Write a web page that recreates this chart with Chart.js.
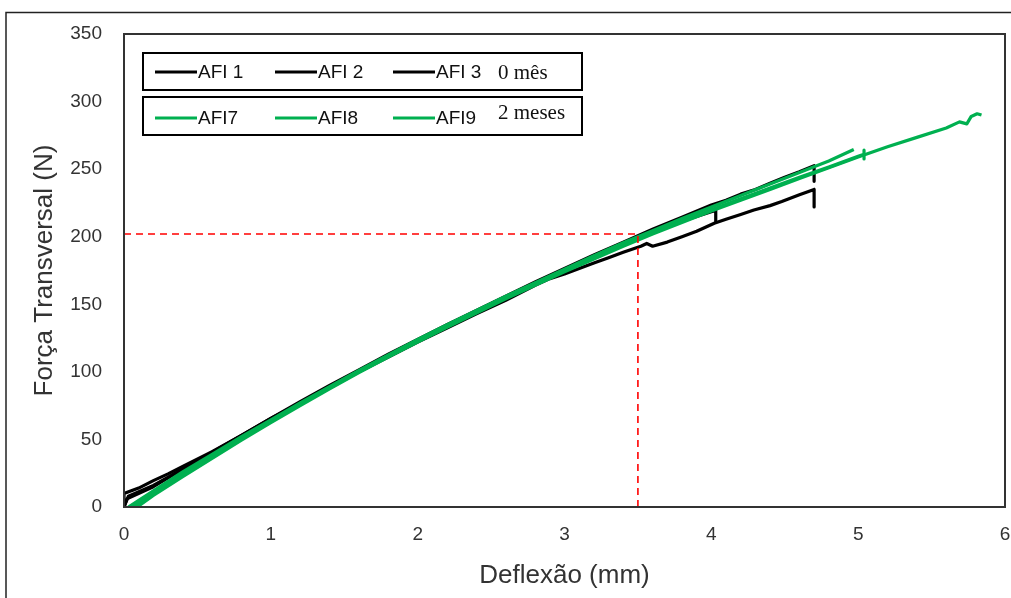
<!DOCTYPE html>
<html>
<head>
<meta charset="utf-8">
<script src="https://cdn.jsdelivr.net/npm/chart.js@4.4.1/dist/chart.umd.min.js"></script>
<style>
  html, body { margin: 0; padding: 0; background: #ffffff; }
  #wrap { position: relative; width: 1011px; height: 598px; }
</style>
</head>
<body>
<div id="wrap"><canvas id="c" width="1011" height="598"></canvas></div>
<script>
// ---- Data (deflection in mm, force in N) ----
const xTicks = [0, 1, 2, 3, 4, 5, 6];
const yTicks = [0, 50, 100, 150, 200, 250, 300, 350];

const afi1X = [0, 0, 0.1, 0.2, 0.3, 0.4, 0.6, 0.8, 1.0, 1.2, 1.4, 1.6, 1.8, 2.0, 2.2, 2.4, 2.6, 2.8, 3.0, 3.2, 3.4, 3.6, 3.8, 4.0, 4.1, 4.2, 4.3, 4.4, 4.5, 4.6, 4.7, 4.7];
const afi1Y = [0, 10, 14, 19.5, 24.5, 30, 41, 53, 65.5, 78, 90, 101.5, 113, 124, 135, 145.5, 156, 166.5, 176.5, 186.5, 196, 205.5, 214.5, 223.5, 227, 231.5, 235, 239.5, 244, 248, 252.5, 241];

const afi2X = [0, 0.02, 0.2, 0.4, 0.6, 0.8, 1.0, 1.2, 1.4, 1.6, 1.8, 2.0, 2.2, 2.4, 2.6, 2.8, 2.9, 3.0, 3.1, 3.2, 3.3, 3.4, 3.52, 3.56, 3.6, 3.7, 3.8, 3.9, 4.02, 4.1, 4.2, 4.29, 4.4, 4.48, 4.6, 4.7, 4.7];
const afi2Y = [0, 6, 15, 28, 40.5, 53, 65.5, 77, 88.5, 100, 111, 122, 132.5, 143, 153, 164, 169, 172.5, 176.5, 180.5, 184.5, 188.5, 193, 195, 193, 196, 200, 204, 210, 213, 216.5, 219.8, 223, 226, 231, 235, 222];

const afi3X = [0, 0.03, 0.2, 0.4, 0.6, 0.8, 1.0, 1.2, 1.4, 1.6, 1.8, 2.0, 2.2, 2.4, 2.6, 2.8, 3.0, 3.2, 3.4, 3.6, 3.8, 4.0, 4.03, 4.03];
const afi3Y = [0, 8, 16, 28, 40.5, 52.5, 65, 77, 89, 100.5, 112, 123, 134, 144.5, 155, 165, 175, 185, 194.5, 203, 211.5, 218.5, 219.5, 211];

const afi7X = [0.03, 0.2, 0.4, 0.6, 0.8, 1.0, 1.2, 1.4, 1.6, 1.8, 2.0, 2.2, 2.4, 2.6, 2.8, 3.0, 3.2, 3.4, 3.6, 3.8, 4.0, 4.2, 4.4, 4.6, 4.8, 4.97];
const afi7Y = [0, 12, 26, 39, 52, 64.5, 77, 89, 101, 112.5, 124, 135, 145.5, 156, 166, 176, 186, 195.5, 204.5, 213.5, 222, 230.5, 239, 247.5, 256, 264.5];

const afi8X = [0.06, 0.2, 0.4, 0.6, 0.8, 1.0, 1.2, 1.4, 1.6, 1.8, 2.0, 2.2, 2.4, 2.6, 2.8, 3.0, 3.2, 3.4, 3.6, 3.8, 4.0, 4.2, 4.4, 4.6, 4.8, 5.0, 5.04, 5.04, 5.04];
const afi8Y = [0, 10, 24, 37.5, 50.5, 63, 76, 88, 100, 111.5, 123, 134, 144.5, 155, 165, 175, 184.5, 194, 203, 211.5, 220, 228, 236, 244, 251.5, 259.5, 261, 264, 257.5];

const afi9X = [0.09, 0.2, 0.4, 0.6, 0.8, 1.0, 1.2, 1.4, 1.6, 1.8, 2.0, 2.2, 2.4, 2.6, 2.8, 3.0, 3.2, 3.4, 3.6, 3.8, 4.0, 4.2, 4.4, 4.6, 4.8, 5.0, 5.2, 5.4, 5.6, 5.69, 5.74, 5.77, 5.81, 5.84];
const afi9Y = [0, 8.5, 22.5, 36, 49.5, 62.5, 75, 87.5, 99.5, 111, 122, 133, 143.5, 154, 164, 174, 183.5, 193, 202, 210.5, 219, 227, 235, 243, 251, 259, 266.5, 273.5, 280.5, 285, 283.5, 289, 291, 290];

// reference (red dashed) guide at 3.5 mm / 202 N
const refX = [0, 3.5, 3.5];
const refY = [202, 202, 0];

const BLACK = '#000000';
const GREEN = '#00B050';

function pts(xs, ys) { return xs.map((x, i) => ({ x: x, y: ys[i] })); }

function line(label, xs, ys, color, order) {
  return {
    label: label, data: pts(xs, ys), borderColor: color, backgroundColor: color,
    borderWidth: 3.2, pointRadius: 0, tension: 0, fill: false, order: order,
    borderJoinStyle: 'round', borderCapStyle: 'butt'
  };
}

const datasets = [
  {
    label: 'ref', data: pts(refX, refY), borderColor: '#FF0000', borderWidth: 1.6,
    borderDash: [7, 5], pointRadius: 0, tension: 0, fill: false, order: 0
  },
  line('AFI 1', afi1X, afi1Y, BLACK, 3),
  line('AFI 2', afi2X, afi2Y, BLACK, 3),
  line('AFI 3', afi3X, afi3Y, BLACK, 3),
  line('AFI7', afi7X, afi7Y, GREEN, 1),
  line('AFI8', afi8X, afi8Y, GREEN, 1),
  line('AFI9', afi9X, afi9Y, GREEN, 1)
];

// legend rows
const legendRow1 = ['AFI 1', 'AFI 2', 'AFI 3'];
const legendRow2 = ['AFI7', 'AFI8', 'AFI9'];
const legendNote1 = '0 mês';
const legendNote2 = '2 meses';

const framePlugin = {
  id: 'frames',
  beforeDraw(chart) {
    const ctx = chart.ctx;
    ctx.save();
    ctx.fillStyle = '#ffffff';
    ctx.fillRect(0, 0, chart.width, chart.height);
    ctx.strokeStyle = '#222';
    ctx.lineWidth = 1.5;
    ctx.beginPath();
    ctx.moveTo(6, chart.height + 2);
    ctx.lineTo(6, 12.5);
    ctx.lineTo(chart.width + 2, 12.5);
    ctx.stroke();
    ctx.restore();
  },
  afterDraw(chart) {
    const ctx = chart.ctx;
    const a = chart.chartArea;
    ctx.save();
    ctx.strokeStyle = '#333';
    ctx.lineWidth = 2;
    ctx.strokeRect(a.left, a.top, a.right - a.left, a.bottom - a.top);

    const bx = 143, bw = 439;
    const rows = [
      { top: 53, h: 37, cy: 72, labels: legendRow1, color: BLACK, note: legendNote1, noteY: 73 },
      { top: 97, h: 38, cy: 118, labels: legendRow2, color: GREEN, note: legendNote2, noteY: 113 }
    ];
    const sampleX = [155, 275, 393];
    rows.forEach(r => {
      ctx.fillStyle = '#fff';
      ctx.fillRect(bx, r.top, bw, r.h);
      ctx.strokeStyle = '#000';
      ctx.lineWidth = 2;
      ctx.strokeRect(bx, r.top, bw, r.h);
      r.labels.forEach((lab, i) => {
        ctx.strokeStyle = r.color;
        ctx.lineWidth = 3;
        ctx.beginPath();
        ctx.moveTo(sampleX[i], r.cy);
        ctx.lineTo(sampleX[i] + 42, r.cy);
        ctx.stroke();
        ctx.fillStyle = '#111';
        ctx.font = '19px "Liberation Sans", Arial, sans-serif';
        ctx.textBaseline = 'middle';
        ctx.textAlign = 'left';
        ctx.fillText(lab, sampleX[i] + 43, r.cy + 1);
      });
      ctx.fillStyle = '#111';
      ctx.font = '21px "Liberation Serif", "Times New Roman", serif';
      ctx.textBaseline = 'middle';
      ctx.fillText(r.note, 498, r.noteY);
    });
    ctx.restore();
  }
};

new Chart(document.getElementById('c'), {
  type: 'line',
  data: { datasets: datasets },
  plugins: [framePlugin],
  options: {
    responsive: false,
    animation: false,
    layout: { padding: { left: 0, top: 34, right: 6, bottom: 0 } },
    plugins: { legend: { display: false }, tooltip: { enabled: false } },
    scales: {
      x: {
        type: 'linear', min: xTicks[0], max: xTicks[xTicks.length - 1],
        afterFit: s => { s.height = 91; s.paddingLeft = 0; s.paddingRight = 5; },
        afterBuildTicks: s => { s.ticks = xTicks.map(v => ({ value: v })); },
        grid: { display: false, drawTicks: false },
        border: { display: false },
        ticks: { padding: 16, color: '#333', font: { family: '"Liberation Sans", Arial, sans-serif', size: 19 }, maxRotation: 0 },
        title: { display: true, text: 'Deflexão (mm)', color: '#333', padding: { top: 0, bottom: 7 },
                 font: { family: '"Liberation Sans", Arial, sans-serif', size: 26 } }
      },
      y: {
        type: 'linear', min: yTicks[0], max: yTicks[yTicks.length - 1],
        afterFit: s => { s.width = 124; },
        afterBuildTicks: s => { s.ticks = yTicks.map(v => ({ value: v })); },
        grid: { display: false, drawTicks: false },
        border: { display: false },
        ticks: { padding: 22, color: '#333', font: { family: '"Liberation Sans", Arial, sans-serif', size: 19 } },
        title: { display: true, text: 'Força Transversal (N)', color: '#333', padding: { top: 29, bottom: 0 },
                 font: { family: '"Liberation Sans", Arial, sans-serif', size: 26 } }
      }
    }
  }
});
</script>
</body>
</html>
